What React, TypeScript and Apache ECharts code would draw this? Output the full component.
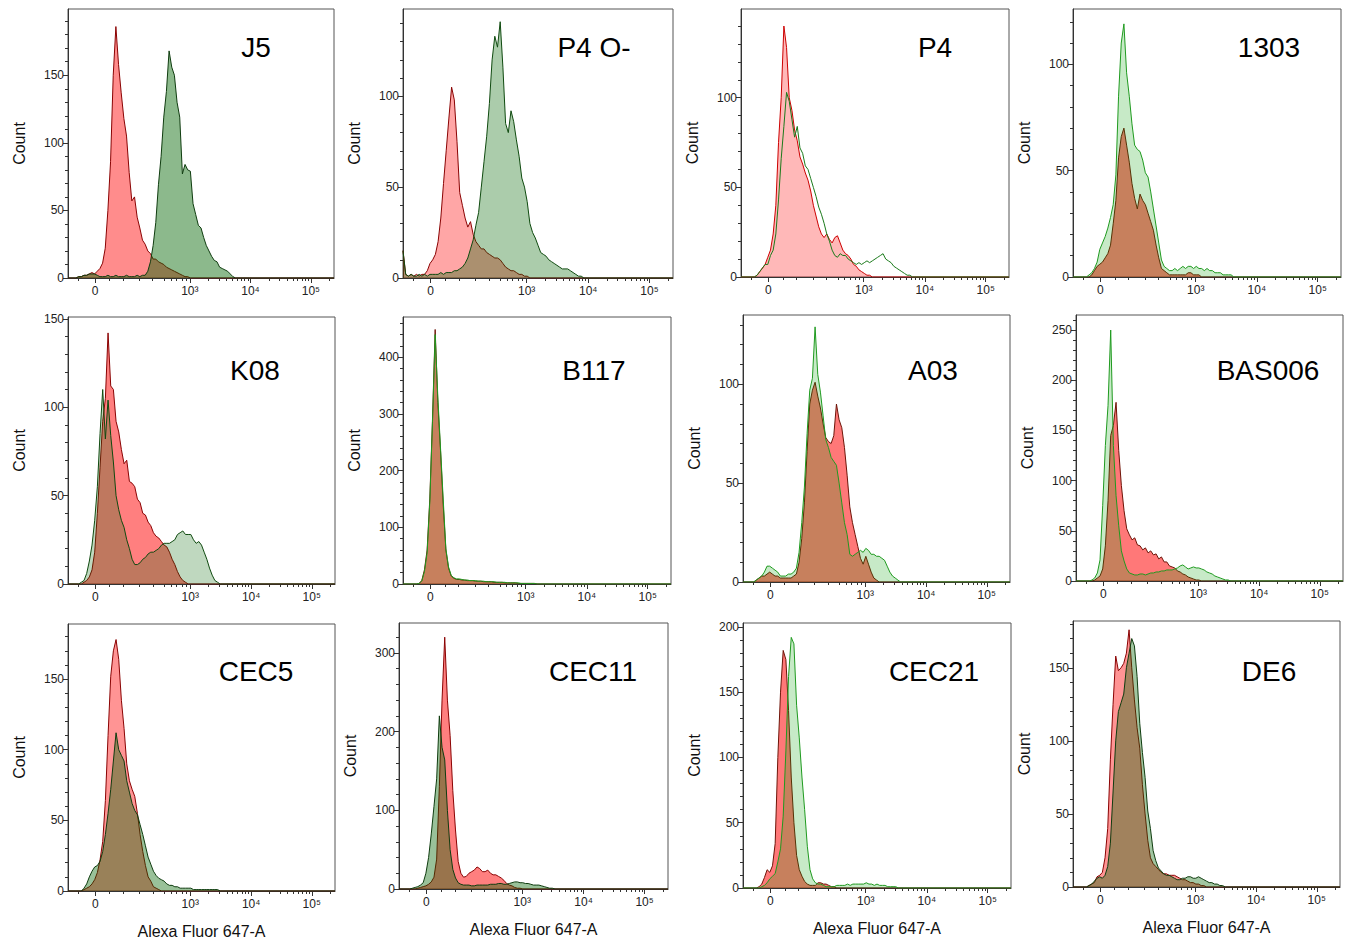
import React, { useEffect, useRef } from "react";
import * as echarts from "echarts";

// ---------- axis ticks (display units 0..100 of a biexponential axis) ----------
const X_TICK_POS = [10.2, 45.8, 68.6, 91.3];
const X_TICK_TEXT = ["0", "10³", "10⁴", "10⁵"];
const X_MINOR = [3.9, 15.6, 20.8, 26.8, 31.8, 36.2, 38.7, 40.6, 42.8, 44.3, 52.7, 56.7, 59.5, 61.7, 63.5, 65.1, 66.4, 67.6, 75.5, 79.5, 82.3, 84.5, 86.3, 87.9, 89.2, 90.4, 98.2];

// ---------- panels ----------
const TITLES = ["J5", "P4 O-", "P4", "1303", "K08", "B117", "A03", "BAS006", "CEC5", "CEC11", "CEC21", "DE6"];
const Y_MAX = [199, 148, 149.5, 126, 151, 471, 135, 265, 189, 338, 203, 182];
const Y_STEP = [50, 50, 50, 50, 50, 100, 50, 50, 50, 100, 50, 50];
const Y_MINOR_STEP = [10, 10, 10, 10, 10, 20, 10, 10, 10, 20, 10, 10];
const X_NAME = "Alexa Fluor 647-A";
const Y_NAME = "Count";

// ---------- histogram counts: first channel + counts per channel ----------
const J5_RED_START = 4;
const J5_RED = [1, 1, 2, 2, 3, 4, 3, 5, 7, 11, 22, 50, 86, 150, 186, 158, 137, 118, 105, 78, 57, 60, 45, 37, 28, 25, 20, 18, 14, 14, 12, 11, 10, 8, 7, 6, 5, 4, 3, 2, 1, 1];
const J5_GREEN_START = 4;
const J5_GREEN = [1, 1, 2, 2, 3, 3, 3, 2, 1, 1, 1, 2, 1, 1, 2, 1, 1, 1, 2, 1, 1, 1, 2, 1, 2, 2, 5, 12, 24, 41, 69, 90, 119, 138, 168, 156, 150, 130, 119, 77, 84, 80, 79, 55, 47, 39, 37, 30, 24, 20, 16, 13, 12, 8, 7, 6, 5, 3, 1];

const P4O_RED_START = 0;
const P4O_RED = [15, 2, 1, 2, 1, 2, 1, 2, 2, 4, 8, 10, 13, 20, 33, 52, 70, 88, 105, 98, 75, 47, 40, 33, 28, 31, 24, 20, 18, 16, 16, 14, 13, 12, 11, 11, 10, 8, 6, 5, 4, 4, 3, 2, 2, 1, 1];
const P4O_GREEN_START = 0;
const P4O_GREEN = [15, 2, 1, 2, 1, 1, 2, 1, 2, 1, 2, 2, 2, 2, 3, 2, 3, 3, 3, 4, 4, 5, 6, 8, 11, 16, 21, 29, 36, 50, 64, 78, 96, 120, 133, 127, 141, 116, 85, 80, 92, 86, 76, 67, 55, 50, 42, 30, 25, 22, 18, 14, 13, 12, 10, 9, 8, 7, 6, 5, 5, 5, 4, 3, 2, 1, 1];

const P4_RED_START = 5;
const P4_RED = [0, 1, 3, 5, 7, 11, 15, 24, 40, 75, 100, 140, 128, 100, 93, 82, 76, 67, 63, 58, 54, 48, 40, 34, 28, 24, 22, 24, 21, 19, 22, 23, 19, 15, 13, 12, 10, 7, 6, 4, 3, 2, 1, 1];
const P4_GREEN_START = 6;
const P4_GREEN = [1, 3, 5, 7, 7, 12, 15, 24, 43, 66, 84, 103, 98, 88, 78, 84, 72, 69, 62, 60, 55, 50, 45, 39, 35, 30, 24, 20, 15, 12, 11, 13, 12, 12, 10, 9, 8, 7, 8, 7, 8, 9, 8, 9, 10, 11, 12, 13, 10, 9, 8, 6, 5, 4, 3, 2, 1, 1];

const C1303_RED_START = 7;
const C1303_RED = [1, 3, 5, 6, 7, 9, 11, 15, 25, 36, 56, 66, 70, 62, 54, 44, 37, 32, 39, 36, 34, 30, 26, 22, 15, 9, 4, 3, 2, 1, 1, 1, 1, 1, 1, 1, 2, 2, 1, 1, 1];
const C1303_GREEN_START = 6;
const C1303_GREEN = [1, 2, 4, 7, 13, 16, 19, 23, 28, 34, 48, 85, 110, 119, 96, 85, 72, 62, 60, 59, 55, 49, 47, 40, 32, 24, 16, 8, 5, 4, 3, 3, 4, 3, 4, 5, 4, 5, 5, 4, 5, 4, 4, 3, 4, 3, 3, 2, 2, 2, 1, 1, 1, 1];

const K08_RED_START = 5;
const K08_RED = [0, 1, 2, 4, 8, 18, 40, 66, 92, 105, 142, 112, 110, 92, 86, 76, 68, 70, 58, 57, 55, 48, 46, 40, 39, 35, 33, 29, 27, 26, 24, 22, 21, 18, 14, 11, 7, 4, 2, 1, 0];
const K08_GREEN_START = 5;
const K08_GREEN = [1, 2, 6, 13, 22, 36, 55, 85, 110, 82, 104, 84, 69, 50, 42, 36, 32, 25, 20, 14, 11, 11, 12, 14, 15, 17, 18, 18, 19, 20, 22, 23, 23, 23, 24, 25, 28, 29, 30, 28, 28, 28, 25, 23, 24, 22, 18, 14, 9, 5, 2, 1, 0];

const B117_RED_START = 6;
const B117_RED = [1, 6, 25, 60, 150, 290, 449, 320, 235, 140, 60, 28, 14, 10, 8, 8, 7, 7, 6, 6, 6, 5, 5, 5, 4, 4, 4, 4, 3, 3, 3, 3, 2, 2, 2, 2, 2, 1, 1, 1, 1, 1, 1, 1];
const B117_GREEN_START = 6;
const B117_GREEN = [1, 5, 22, 55, 145, 285, 440, 330, 240, 150, 62, 30, 15, 11, 9, 9, 8, 7, 7, 6, 6, 6, 5, 5, 5, 4, 4, 4, 4, 3, 3, 3, 3, 2, 2, 2, 2, 2, 1, 1, 1, 1, 1, 1];

const A03_RED_START = 5;
const A03_RED = [1, 2, 3, 3, 4, 5, 4, 3, 3, 2, 2, 2, 2, 2, 3, 4, 10, 22, 40, 66, 90, 97, 101, 94, 88, 80, 73, 71, 70, 74, 90, 82, 78, 68, 54, 38, 30, 24, 18, 12, 9, 13, 9, 5, 2, 1];
const A03_GREEN_START = 5;
const A03_GREEN = [1, 2, 3, 5, 8, 8, 7, 6, 5, 3, 3, 3, 4, 4, 5, 7, 15, 30, 48, 75, 97, 103, 129, 105, 96, 84, 72, 68, 63, 61, 59, 50, 40, 30, 24, 14, 13, 14, 15, 16, 15, 17, 16, 14, 14, 13, 13, 12, 11, 8, 5, 3, 2, 1];

const BAS006_RED_START = 7;
const BAS006_RED = [1, 3, 5, 12, 35, 80, 145, 155, 178, 130, 95, 70, 52, 46, 41, 43, 36, 35, 31, 33, 28, 30, 26, 27, 22, 24, 19, 19, 15, 14, 13, 10, 9, 7, 6, 4, 3, 2, 1, 1];
const BAS006_GREEN_START = 6;
const BAS006_GREEN = [1, 3, 8, 21, 75, 135, 175, 250, 135, 85, 55, 30, 20, 12, 8, 7, 6, 6, 7, 7, 6, 7, 8, 8, 9, 9, 10, 10, 11, 11, 11, 12, 13, 15, 16, 14, 12, 13, 14, 13, 13, 12, 11, 9, 8, 7, 5, 4, 3, 2, 1, 1];

const CEC5_RED_START = 6;
const CEC5_RED = [1, 2, 3, 5, 8, 13, 22, 35, 64, 110, 152, 170, 178, 164, 135, 115, 90, 78, 72, 67, 55, 40, 28, 18, 10, 7, 3, 2, 1];
const CEC5_GREEN_START = 6;
const CEC5_GREEN = [2, 5, 10, 14, 17, 18, 21, 28, 40, 55, 72, 92, 112, 100, 96, 92, 78, 70, 62, 57, 54, 47, 40, 32, 24, 19, 14, 11, 9, 8, 7, 5, 4, 4, 3, 3, 2, 2, 2, 2, 2, 1, 1, 1, 1, 1, 1, 1, 1, 1, 1];

const CEC11_RED_START = 7;
const CEC11_RED = [1, 2, 3, 4, 6, 9, 15, 38, 130, 240, 320, 240, 195, 125, 75, 35, 20, 15, 16, 20, 22, 24, 28, 26, 22, 22, 24, 20, 18, 18, 16, 14, 11, 7, 5, 4, 2, 1, 1];
const CEC11_GREEN_START = 5;
const CEC11_GREEN = [1, 2, 3, 5, 8, 20, 40, 70, 105, 140, 220, 180, 164, 100, 50, 25, 14, 8, 6, 5, 5, 5, 4, 4, 5, 5, 5, 5, 5, 6, 6, 6, 7, 7, 6, 6, 7, 8, 9, 9, 8, 8, 7, 7, 6, 5, 5, 5, 4, 3, 2, 1, 1];

const CEC21_RED_START = 6;
const CEC21_RED = [1, 3, 8, 14, 12, 17, 34, 100, 150, 182, 175, 136, 85, 50, 25, 14, 9, 5, 3, 2, 2, 2, 4, 4, 3, 3, 2, 1, 1];
const CEC21_GREEN_START = 7;
const CEC21_GREEN = [1, 2, 4, 7, 9, 11, 20, 30, 55, 105, 162, 192, 187, 140, 115, 85, 60, 32, 14, 7, 4, 3, 3, 2, 1, 1, 1, 1, 2, 2, 2, 2, 3, 2, 3, 3, 3, 3, 3, 4, 3, 3, 2, 3, 2, 2, 2, 1, 1, 1, 1];

const DE6_RED_START = 6;
const DE6_RED = [1, 2, 3, 7, 8, 10, 20, 40, 87, 125, 158, 148, 150, 153, 160, 176, 150, 128, 109, 95, 70, 50, 32, 20, 16, 14, 12, 10, 9, 9, 8, 8, 8, 7, 6, 5, 5, 4, 3, 3, 2, 2, 1, 1];
const DE6_GREEN_START = 6;
const DE6_GREEN = [1, 2, 4, 6, 7, 6, 8, 14, 30, 65, 100, 120, 126, 132, 150, 160, 170, 165, 144, 112, 92, 75, 52, 40, 25, 18, 13, 11, 9, 8, 8, 7, 6, 5, 5, 6, 6, 7, 7, 6, 6, 7, 6, 5, 4, 3, 3, 2, 2, 1, 1];

const RED_SETS: [number, number[]][] = [
  [J5_RED_START, J5_RED], [P4O_RED_START, P4O_RED], [P4_RED_START, P4_RED], [C1303_RED_START, C1303_RED],
  [K08_RED_START, K08_RED], [B117_RED_START, B117_RED], [A03_RED_START, A03_RED], [BAS006_RED_START, BAS006_RED],
  [CEC5_RED_START, CEC5_RED], [CEC11_RED_START, CEC11_RED], [CEC21_RED_START, CEC21_RED], [DE6_RED_START, DE6_RED],
];
const GREEN_SETS: [number, number[]][] = [
  [J5_GREEN_START, J5_GREEN], [P4O_GREEN_START, P4O_GREEN], [P4_GREEN_START, P4_GREEN], [C1303_GREEN_START, C1303_GREEN],
  [K08_GREEN_START, K08_GREEN], [B117_GREEN_START, B117_GREEN], [A03_GREEN_START, A03_GREEN], [BAS006_GREEN_START, BAS006_GREEN],
  [CEC5_GREEN_START, CEC5_GREEN], [CEC11_GREEN_START, CEC11_GREEN], [CEC21_GREEN_START, CEC21_GREEN], [DE6_GREEN_START, DE6_GREEN],
];

// ---------- layout (pixels) ----------
const BOXES = [
  [68, 9, 266, 269], [403, 9, 270, 269], [741, 9, 268, 268], [1073, 9, 268, 268],
  [68, 317, 267, 267], [403, 317, 268, 267], [743, 315, 267, 267], [1076, 315, 267, 266],
  [68, 624, 267, 267], [399, 623, 269, 266], [743, 623, 268, 265], [1073, 621, 267, 266],
];
const TITLE_XY = [
  [256, 47], [594, 47], [935, 47], [1269, 47],
  [255, 370], [594, 370], [933, 370], [1268, 370],
  [256, 671], [593, 671], [934, 671], [1269, 671],
];

// ---------- styles ----------
type Sty = { rl: string; ra: string | null; gl: string; ga: string | null };
const DARK = (ra: number, ga: number): Sty => ({ rl: "#8a0303", ra: `rgba(255,0,0,${ra})`, gl: "#0f3c0f", ga: `rgba(0,100,0,${ga})` });
const BRIGHT: Sty = { rl: "#6e1408", ra: "rgba(255,0,0,0.53)", gl: "#1f9a1f", ga: "rgba(0,160,0,0.22)" };
const P4STY: Sty = { rl: "#cc0000", ra: "rgba(255,0,0,0.28)", gl: "#1b7a1b", ga: null };
const STYLES: Sty[] = [
  DARK(0.45, 0.45), { ...DARK(0.35, 0.33), gl: "#0f4a0f" }, P4STY, BRIGHT,
  { ...DARK(0.5, 0.25), gl: "#0f4a0f" }, BRIGHT, BRIGHT, BRIGHT,
  DARK(0.42, 0.4), DARK(0.5, 0.4), BRIGHT, DARK(0.42, 0.37),
];

const FONT = "'Liberation Sans', Arial, Helvetica, sans-serif";

function hist(start: number, counts: number[]): [number, number][] {
  const pts: [number, number][] = [];
  if (start > 0) {
    pts.push([0, 0]);
    if (start > 1) pts.push([start - 1, 0]);
  }
  counts.forEach((c, k) => pts.push([start + k, c]));
  pts.push([start + counts.length, 0]);
  pts.push([100, 0]);
  return pts;
}

function buildOption() {
  const grid: any[] = [];
  const xAxis: any[] = [];
  const yAxis: any[] = [];
  const series: any[] = [];
  const graphic: any[] = [];
  const axisColor = "#333";

  BOXES.forEach((b, i) => {
    const [left, top, width, height] = b;
    grid.push({ left, top, width, height, show: true, borderColor: "#555", borderWidth: 1, backgroundColor: "transparent" });

    xAxis.push({
      gridIndex: i, type: "value", min: 0, max: 100, position: "bottom",
      axisLine: { show: true, onZero: false, lineStyle: { color: axisColor, width: 1 } },
      axisTick: { show: true, customValues: X_TICK_POS, length: 5, lineStyle: { color: axisColor } },
      axisLabel: {
        show: true, customValues: X_TICK_POS, margin: 7, fontSize: 12, color: "#222", fontFamily: FONT,
        formatter: (v: number) => { const k = X_TICK_POS.indexOf(v); return k >= 0 ? X_TICK_TEXT[k] : ""; },
      },
      splitLine: { show: false },
    });
    xAxis.push({
      gridIndex: i, type: "value", min: 0, max: 100, position: "bottom",
      axisLine: { show: false, onZero: false },
      axisTick: { show: true, customValues: X_MINOR, length: 3, lineStyle: { color: axisColor } },
      axisLabel: { show: false },
      splitLine: { show: false },
    });

    const majors: number[] = [];
    for (let v = 0; v <= Y_MAX[i]; v += Y_STEP[i]) majors.push(v);
    const minors: number[] = [];
    for (let v = Y_MINOR_STEP[i]; v <= Y_MAX[i]; v += Y_MINOR_STEP[i]) if (v % Y_STEP[i] !== 0) minors.push(v);

    yAxis.push({
      gridIndex: i, type: "value", min: 0, max: Y_MAX[i], position: "left",
      axisLine: { show: true, onZero: false, lineStyle: { color: axisColor, width: 1 } },
      axisTick: { show: true, customValues: majors, length: 5, lineStyle: { color: axisColor } },
      axisLabel: { show: true, customValues: majors, margin: 4, fontSize: 12, color: "#222", fontFamily: FONT },
      splitLine: { show: false },
    });
    yAxis.push({
      gridIndex: i, type: "value", min: 0, max: Y_MAX[i], position: "left",
      axisLine: { show: false, onZero: false },
      axisTick: { show: true, customValues: minors, length: 3, lineStyle: { color: axisColor } },
      axisLabel: { show: false },
      splitLine: { show: false },
    });

    const st = STYLES[i];
    const [rs, rc] = RED_SETS[i];
    const [gs, gc] = GREEN_SETS[i];
    series.push({
      type: "line", xAxisIndex: 2 * i, yAxisIndex: 2 * i, data: hist(rs, rc),
      symbol: "none", showSymbol: false, silent: true, z: 2,
      lineStyle: { color: st.rl, width: 1 }, itemStyle: { color: st.rl },
      areaStyle: st.ra ? { color: st.ra, opacity: 1 } : undefined,
    });
    series.push({
      type: "line", xAxisIndex: 2 * i, yAxisIndex: 2 * i, data: hist(gs, gc),
      symbol: "none", showSymbol: false, silent: true, z: 3,
      lineStyle: { color: st.gl, width: 1 }, itemStyle: { color: st.gl },
      areaStyle: st.ga ? { color: st.ga, opacity: 1 } : undefined,
    });

    graphic.push({
      type: "text", x: TITLE_XY[i][0], y: TITLE_XY[i][1], z: 10,
      style: { text: TITLES[i], fontSize: 28, fontFamily: FONT, fill: "#000", textAlign: "center", textVerticalAlign: "middle" },
    });
    graphic.push({
      type: "text", x: left - 49, y: top + height / 2, rotation: Math.PI / 2, z: 10,
      style: { text: Y_NAME, fontSize: 16, fontFamily: FONT, fill: "#111", textAlign: "center", textVerticalAlign: "middle" },
    });
    if (i >= 8) {
      graphic.push({
        type: "text", x: left + width / 2, y: top + height + 40, z: 10,
        style: { text: X_NAME, fontSize: 16, fontFamily: FONT, fill: "#111", textAlign: "center", textVerticalAlign: "middle" },
      });
    }
  });

  return { animation: false, backgroundColor: "#fff", grid, xAxis, yAxis, series, graphic };
}

export default function App() {
  const ref = useRef<HTMLDivElement>(null);
  useEffect(() => {
    if (!ref.current) return;
    const chart = echarts.init(ref.current, undefined, { renderer: "svg" });
    chart.setOption(buildOption() as any);
    return () => chart.dispose();
  }, []);
  return (
    <div
      ref={ref}
      style={{ position: "absolute", left: 0, top: 0, width: 1350, height: 939, background: "#fff" }}
    />
  );
}
